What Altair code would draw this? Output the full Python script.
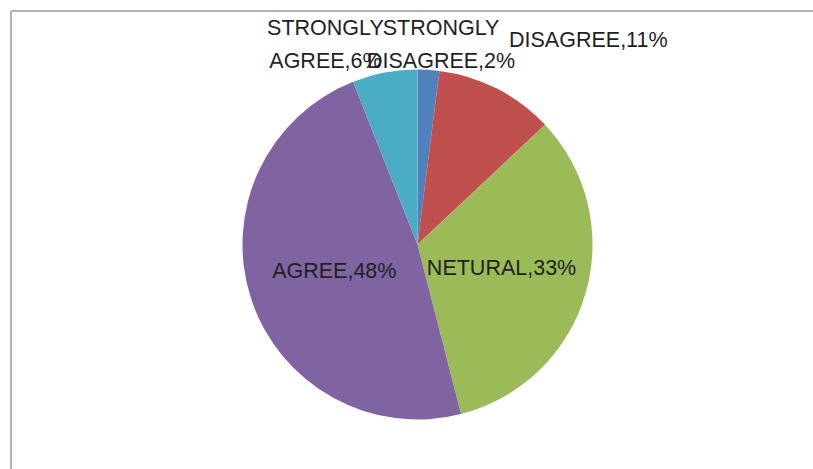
import altair as alt
import pandas as pd

# ---- data ----
categories = ["STRONGLY DISAGREE", "DISAGREE", "NETURAL", "AGREE", "STRONGLY AGREE"]
percent = [2, 11, 33, 48, 6]
labels = ["STRONGLY\nDISAGREE,2%", "DISAGREE,11%", "NETURAL,33%", "AGREE,48%", "STRONGLY\nAGREE,6%"]
colors = ["#4F81BD", "#C0504D", "#9BBB59", "#8064A2", "#4BACC6"]

# ---- label placement style (distance from pie centre, pixel nudges) ----
label_radius = [200, 200, 87.5, 87.5, 203]
label_nudge_x = [11, 80, 0, 0, -54]
label_nudge_y = [-16, -25, 0, 0, -16]

W, H = 780, 458
CX, CY, R = 406.5, 233.5, 175

df = pd.DataFrame({
    "category": categories,
    "value": percent,
    "label": labels,
    "idx": list(range(len(categories))),
    "r": label_radius,
    "nx": label_nudge_x,
    "ny": label_nudge_y,
})

base = alt.Chart(df)

pie = base.mark_arc(radius=R).encode(
    theta=alt.Theta("value:Q", stack=True),
    color=alt.Color("category:N", scale=alt.Scale(domain=categories, range=colors), legend=None),
    order=alt.Order("idx:Q"),
    x=alt.value(CX),
    y=alt.value(CY),
)

text = base.transform_window(
    cum="sum(value)", sort=[alt.SortField("idx")]
).transform_joinaggregate(
    total="sum(value)"
).transform_calculate(
    mid="2*PI*(datum.cum - datum.value/2)/datum.total"
).transform_calculate(
    lx=f"{CX} + datum.r*sin(datum.mid) + datum.nx",
    ly=f"{CY} - datum.r*cos(datum.mid) + datum.ny",
).mark_text(
    font="Liberation Sans", fontSize=21.5, color="#1f1f1f", align="center",
    baseline="middle", lineBreak="\n", lineHeight=33,
).encode(
    x=alt.X("lx:Q", scale=None),
    y=alt.Y("ly:Q", scale=None),
    text="label:N",
)

frame_left = alt.Chart(df).mark_rule(color="#b3b3b3", strokeWidth=2).encode(
    x=alt.value(0), y=alt.value(0), y2=alt.value(H)
)
frame_top = alt.Chart(df).mark_rule(color="#b3b3b3", strokeWidth=2).encode(
    x=alt.value(0), x2=alt.value(W + 22), y=alt.value(0)
)

chart = alt.layer(pie, text, frame_left, frame_top).properties(
    width=W, height=H,
    autosize=alt.AutoSizeParams(type="none"),
    padding={"left": 11, "top": 11, "right": 22, "bottom": 0},
    background="white",
).configure_view(stroke="transparent", strokeWidth=0)

chart.save("out.html", embed_options={"renderer": "svg", "actions": False})
